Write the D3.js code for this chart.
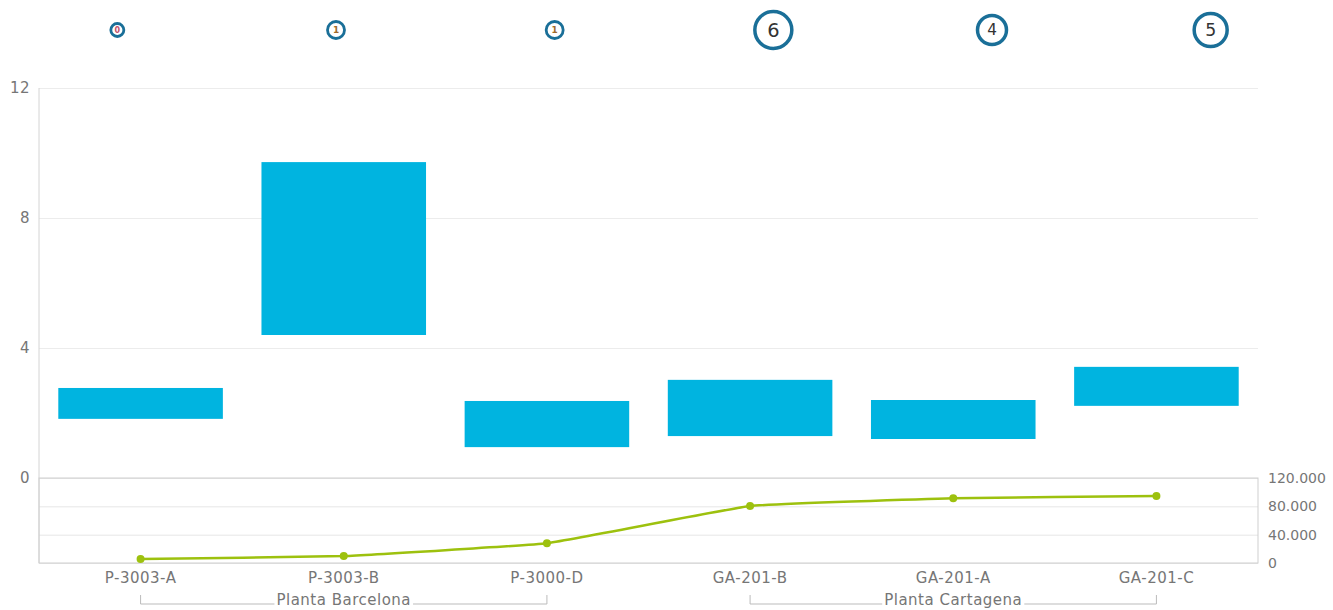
<!DOCTYPE html>
<html>
<head>
<meta charset="utf-8">
<script src="https://cdn.jsdelivr.net/npm/d3@7"></script>
<style>
  body { margin: 0; background: #fff; }
  text { font-family: "DejaVu Sans", sans-serif; }
</style>
</head>
<body>
<div id="chart-area"></div>
<script>
// data
var equipos = ["P-3003-A", "P-3003-B", "P-3000-D", "GA-201-B", "GA-201-A", "GA-201-C"];
var plantas = ["Planta Barcelona", "Planta Barcelona", "Planta Barcelona", "Planta Cartagena", "Planta Cartagena", "Planta Cartagena"];
var rangoMin = [1.82, 4.4, 0.95, 1.29, 1.2, 2.22];
var rangoMax = [2.77, 9.72, 2.37, 3.02, 2.4, 3.42];
var acumulado = [5500, 9800, 28000, 80500, 91500, 94500];
var avisos = [0, 1, 1, 6, 4, 5];
var ticksIzq = [0, 4, 8, 12];
var ticksDer = [0, 40000, 80000, 120000];

var width = 1333, height = 610;
var left = 39, right = 1258;
var topY = 88, midY = 478, botY = 563;
var gris = "#767676";

var svg = d3.select("#chart-area")
	.append("svg")
		.attr("width", width)
		.attr("height", height);

var x = d3.scaleBand()
	.domain(equipos)
	.range([left, right])
	.paddingInner(0.19)
	.paddingOuter(0.095);

var xc = d3.scaleBand()
	.domain(equipos)
	.range([left, right]);

var y = d3.scaleLinear()
	.domain([0, 12])
	.range([midY, topY]);

var y2 = d3.scaleLinear()
	.domain([0, 120000])
	.range([botY, midY]);

var fmt = d3.formatLocale({ decimal: ",", thousands: ".", grouping: [3], currency: ["", ""] }).format(",");

// top panel grid
var gridTop = d3.axisLeft(y).tickValues(ticksIzq).tickSize(-(right - left)).tickFormat("");
svg.append("g")
	.attr("transform", "translate(" + left + ",0)")
	.call(gridTop)
	.call(function(g) {
		g.select(".domain").remove();
		g.selectAll("line").attr("stroke", "#ececec");
	});

// left axis labels
var axisIzq = d3.axisLeft(y).tickValues(ticksIzq).tickSize(0).tickPadding(9);
svg.append("g")
	.attr("transform", "translate(" + left + ",0)")
	.call(axisIzq)
	.call(function(g) {
		g.select(".domain").remove();
		g.selectAll("text").attr("font-size", "15px").attr("fill", gris)
			.attr("letter-spacing", "0.5px")
			.attr("font-family", "DejaVu Sans, sans-serif");
	});

// lower panel grid
var gridBot = d3.axisLeft(y2).tickValues(ticksDer).tickSize(-(right - left)).tickFormat("");
svg.append("g")
	.attr("transform", "translate(" + left + ",0)")
	.call(gridBot)
	.call(function(g) {
		g.select(".domain").remove();
		g.selectAll("line").attr("stroke", "#e6e6e6");
	});

// right axis
var axisDer = d3.axisRight(y2).tickValues(ticksDer).tickSize(0).tickPadding(10).tickFormat(fmt);
svg.append("g")
	.attr("transform", "translate(" + right + ",0)")
	.call(axisDer)
	.call(function(g) {
		g.select(".domain").remove();
		g.selectAll("text").attr("font-size", "14px").attr("fill", gris)
			.attr("font-family", "DejaVu Sans, sans-serif");
	});

// panel borders
svg.append("line")
	.attr("x1", left).attr("x2", left).attr("y1", topY).attr("y2", botY)
	.attr("stroke", "#d4d4d4");
svg.append("rect")
	.attr("x", left).attr("y", midY)
	.attr("width", right - left).attr("height", botY - midY)
	.attr("fill", "none").attr("stroke", "#cfcfcf");

// floating bars
svg.selectAll("rect.barra")
	.data(equipos).enter()
	.append("rect")
		.attr("class", "barra")
		.attr("x", function(d) { return x(d); })
		.attr("width", x.bandwidth())
		.attr("y", function(d, i) { return y(rangoMax[i]); })
		.attr("height", function(d, i) { return y(rangoMin[i]) - y(rangoMax[i]); })
		.attr("fill", "#00b4e0");

// line
var linea = d3.line()
	.x(function(d, i) { return xc(equipos[i]) + xc.bandwidth() / 2; })
	.y(function(d) { return y2(d); })
	.curve(d3.curveCardinal.tension(0.75));

svg.append("path")
	.datum(acumulado)
	.attr("d", linea)
	.attr("fill", "none")
	.attr("stroke", "#9dc10e")
	.attr("stroke-width", 2.5);

svg.selectAll("circle.punto")
	.data(acumulado).enter()
	.append("circle")
		.attr("class", "punto")
		.attr("cx", function(d, i) { return xc(equipos[i]) + xc.bandwidth() / 2; })
		.attr("cy", function(d) { return y2(d); })
		.attr("r", 4)
		.attr("fill", "#9dc10e");

// x labels
svg.selectAll("text.equipo")
	.data(equipos).enter()
	.append("text")
		.attr("class", "equipo")
		.attr("x", function(d) { return xc(d) + xc.bandwidth() / 2; })
		.attr("y", 583)
		.attr("text-anchor", "middle")
		.attr("font-size", "15px")
		.attr("letter-spacing", "0.5px")
		.attr("fill", gris)
		.text(function(d) { return d; });

// group brackets
var grupos = Array.from(new Set(plantas));
grupos.forEach(function(p) {
	var miembros = equipos.filter(function(d, i) { return plantas[i] === p; });
	var x1 = xc(miembros[0]) + xc.bandwidth() / 2;
	var x2 = xc(miembros[miembros.length - 1]) + xc.bandwidth() / 2;
	var g = svg.append("g");
	g.append("path")
		.attr("d", "M" + x1 + ",595V604H" + x2 + "V595")
		.attr("fill", "none")
		.attr("stroke", "#bbb");
	var t = g.append("text")
		.attr("x", (x1 + x2) / 2)
		.attr("y", 605)
		.attr("text-anchor", "middle")
		.attr("font-size", "15px")
		.attr("letter-spacing", "0.5px")
		.attr("fill", gris)
		.text(p);
	var bb = t.node().getBBox();
	g.insert("rect", "text")
		.attr("x", bb.x - 2).attr("y", bb.y)
		.attr("width", bb.width + 4).attr("height", bb.height)
		.attr("fill", "#fff");
});

// top count bubbles
var xb = d3.scaleBand()
	.domain(equipos)
	.range([8, 1320]);

var r = d3.scaleLinear().domain([0, 6]).range([6.5, 18.5]);

var burbujas = svg.selectAll("g.burbuja")
	.data(avisos).enter()
	.append("g")
		.attr("class", "burbuja")
		.attr("transform", function(d, i) {
			return "translate(" + (xb(equipos[i]) + xb.bandwidth() / 2) + "," + 30 + ")";
		});

burbujas.append("circle")
	.attr("r", function(d) { return r(d); })
	.attr("fill", "#fff")
	.attr("stroke", "#1a6f98")
	.attr("stroke-width", function(d) { return d > 2 ? 3.5 : 2.8; });

burbujas.append("text")
	.attr("text-anchor", "middle")
	.attr("dy", "0.36em")
	.attr("font-family", "DejaVu Sans, sans-serif")
	.attr("font-weight", function(d) { return d < 2 ? "bold" : "normal"; })
	.attr("font-size", function(d) { return Math.max(8, r(d) * 1.05) + "px"; })
	.attr("fill", function(d) { return d === 0 ? "#c0506a" : d === 1 ? "#a06a2a" : "#333"; })
	.text(function(d) { return d; });
</script>
</body>
</html>
